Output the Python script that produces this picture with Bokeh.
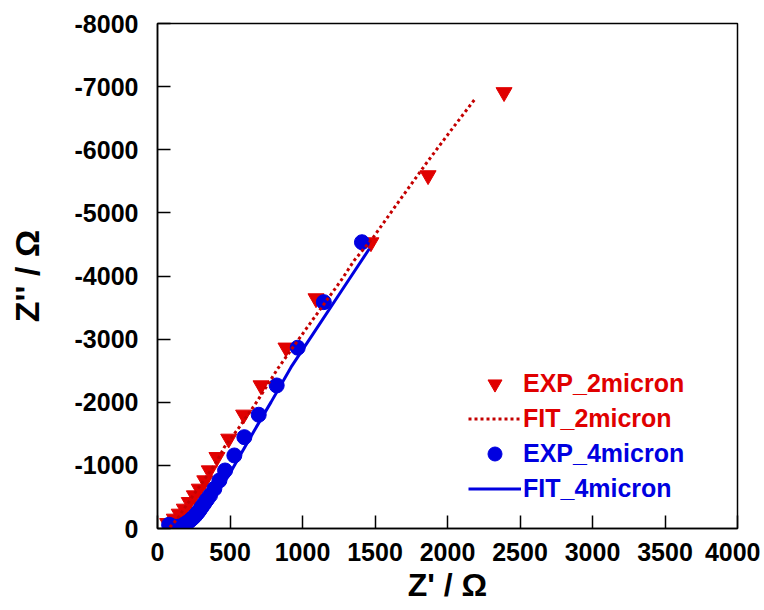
from bokeh.plotting import figure
from bokeh.models import Range1d, FixedTicker, Legend, LegendItem
from bokeh.embed import file_html
from bokeh.resources import INLINE

# ---- data ----
exp2_x = [2390, 1866, 1472, 1093, 886, 714, 594, 491, 410, 357, 326, 288, 254, 219, 185, 150, 116, 70]
exp2_y = [-6910, -5594, -4532, -3645, -2864, -2266, -1802, -1421, -1130, -919, -761, -629, -523, -417, -312, -233, -154, -84]

fit2_x = [85, 110, 150, 200, 260, 330, 400, 461, 564, 691, 829, 1001, 1266, 1357, 1484, 1645, 1852, 2024, 2197]
fit2_y = [-20, -80, -200, -370, -570, -800, -1030, -1288, -1605, -2028, -2531, -3085, -3930, -4247, -4600, -5119, -5780, -6307, -6826]

exp4_x = [80, 95, 110, 125, 140, 155, 170, 185, 200, 215, 230, 245, 260, 275, 290, 305, 322, 340, 362, 392, 427, 466, 530, 599, 698, 822, 967, 1147, 1410]
exp4_y = [-60, -40, -30, -25, -28, -35, -48, -65, -85, -110, -140, -170, -205, -245, -290, -340, -395, -455, -523, -629, -761, -919, -1157, -1447, -1802, -2266, -2864, -3586, -4535]

fit4_x = [80, 130, 180, 230, 280, 330, 380, 430, 484, 576, 668, 783, 921, 1081, 1266, 1461]
fit4_y = [-5, -15, -50, -120, -220, -340, -480, -640, -813, -1184, -1553, -2002, -2556, -3112, -3754, -4432]

x_ticks = [0, 500, 1000, 1500, 2000, 2500, 3000, 3500, 4000]
y_ticks = [0, -1000, -2000, -3000, -4000, -5000, -6000, -7000, -8000]

x_title = "Z' / Ω"
y_title = "Z'' / Ω"

RED = "#e00000"
DOT_RED = "#c40000"
BLUE = "#0000e0"
FONT = "Liberation Sans"

p = figure(width=760, height=606, output_backend="svg", toolbar_location=None,
           x_range=Range1d(0, 4000), y_range=Range1d(0, -8000),
           min_border_left=157, min_border_right=23, min_border_top=23, min_border_bottom=78)
p.grid.visible = False
p.outline_line_color = "black"
p.outline_line_width = 1.5
p.background_fill_color = "white"
p.border_fill_color = "white"

p.xaxis.ticker = FixedTicker(ticks=x_ticks)
p.yaxis.ticker = FixedTicker(ticks=y_ticks)
p.yaxis.major_label_overrides = {t: ("%d" % t) for t in y_ticks}
for ax in (p.xaxis[0], p.yaxis[0]):
    ax.major_tick_in = 13
    ax.major_tick_out = 0
    ax.minor_tick_line_color = None
    ax.axis_line_width = 1.5
    ax.axis_line_color = "black"
    ax.major_tick_line_width = 1.5
    ax.major_tick_line_color = "black"
    ax.major_label_text_font = FONT
    ax.major_label_text_font_size = "25px"
    ax.major_label_text_font_style = "bold"
    ax.major_label_text_color = "black"
    ax.axis_label_text_font = FONT
    ax.axis_label_text_font_style = "bold"
    ax.axis_label_text_color = "black"
p.xaxis.major_label_standoff = 14
p.yaxis.major_label_standoff = 19
p.xaxis.axis_label = x_title
p.yaxis.axis_label = y_title
p.xaxis.axis_label_text_font_size = "32px"
p.yaxis.axis_label_text_font_size = "34px"
p.xaxis.axis_label_standoff = 3
p.yaxis.axis_label_standoff = 26

r_exp2 = p.scatter(exp2_x, exp2_y, marker="inverted_triangle", size=16,
                   fill_color=RED, line_color=RED)
r_exp4 = p.scatter(exp4_x, exp4_y, marker="circle", size=15,
                   fill_color=BLUE, line_color=BLUE)
r_fit4 = p.line(fit4_x, fit4_y, line_color=BLUE, line_width=3)
r_fit2 = p.line(fit2_x, fit2_y, line_color=DOT_RED, line_width=3, line_dash="3 3")

def make_legend(items, color, loc):
    return Legend(items=items, location=loc, orientation="vertical",
                  glyph_width=53, glyph_height=35, label_height=35,
                  label_standoff=2, padding=0, margin=0, spacing=0,
                  background_fill_alpha=0, border_line_alpha=0,
                  label_text_font=FONT, label_text_font_size="25px",
                  label_text_font_style="bold", label_text_color=color)

lg1 = make_legend([LegendItem(label="EXP_2micron", renderers=[r_exp2]),
                   LegendItem(label="FIT_2micron", renderers=[r_fit2])], RED, (311, 92))
lg2 = make_legend([LegendItem(label="EXP_4micron", renderers=[r_exp4]),
                   LegendItem(label="FIT_4micron", renderers=[r_fit4])], BLUE, (311, 22))
p.add_layout(lg1)
p.add_layout(lg2)

open("out.html", "w").write(file_html(p, INLINE))
